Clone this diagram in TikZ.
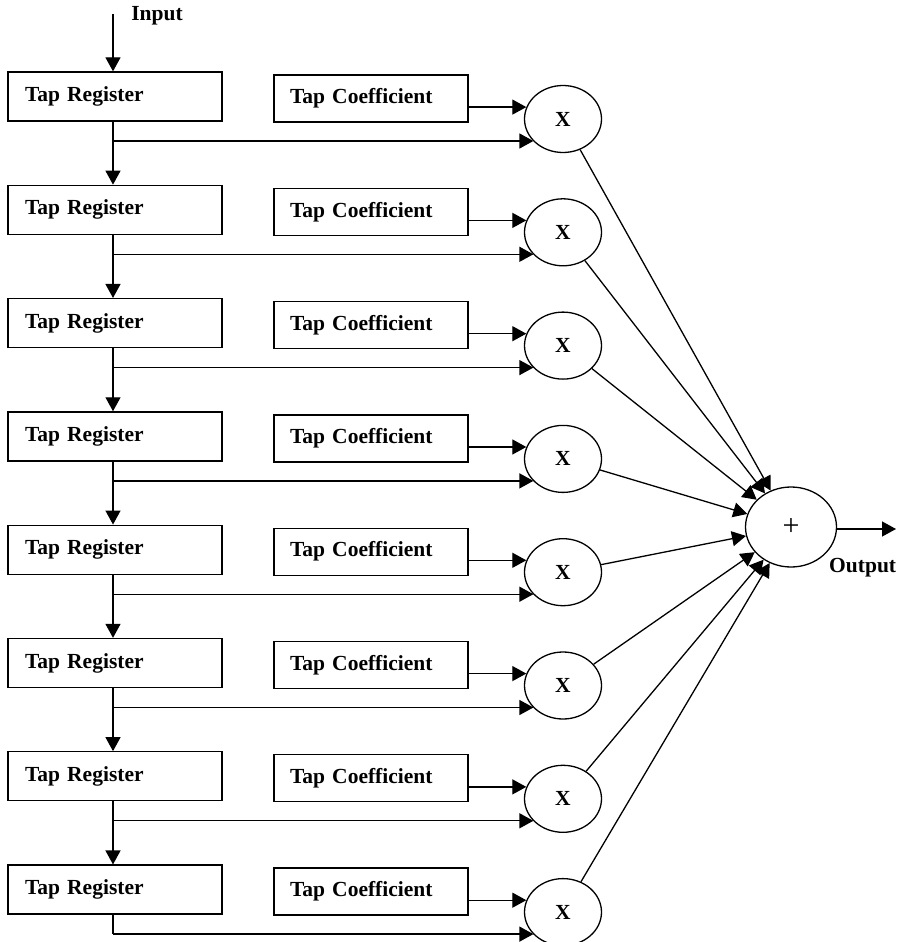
\documentclass[tikz,border=0pt]{standalone}
\usepackage{fontspec}
\setmainfont{Liberation Serif}
\usetikzlibrary{shapes.geometric,arrows.meta}
\tikzset{
  lbl/.style={font=\bfseries\fontsize{21.5}{24}\selectfont},
  regbox/.style={lbl, draw, line width=1.3pt, minimum height=49pt, text width=180pt, inner xsep=17pt, align=left},
  coefbox/.style={lbl, draw, line width=1.3pt, minimum height=47pt, text width=162pt, inner xsep=16pt, align=left},
  mult/.style={lbl, draw, ellipse, line width=1.3pt, minimum width=77pt, minimum height=67pt, inner sep=0pt},
  flow/.style={line width=1.3pt, -{Triangle[length=14pt,width=15pt]}},
}
\begin{document}
\begin{tikzpicture}[x=1pt, y=-1pt]
    \useasboundingbox (0,0) rectangle (897,942);

    % Input
    \node[lbl] (in) at (157,16) {Input};
    \coordinate (src) at (113,14);

    % Rows: register, coefficient, multiplier
    \foreach \k in {1,...,8} {
        \pgfmathsetmacro\dy{113.3*(\k-1)}
        \node[regbox] (r\k) at (115,96.5+\dy) {Tap Register};
        \node[coefbox] (c\k) at (371,98.5+\dy) {Tap Coefficient};
        \node[mult] (m\k) at (563,119+\dy) {X};
        \coordinate (b\k) at (113,141+\dy);
    }

    % Adder
    \node[draw, ellipse, line width=1.3pt, minimum width=91pt, minimum height=80pt, font=\fontsize{30}{32}\selectfont] (add) at (791,527) {+};
    \coordinate (out) at (896,529);
    \node[lbl, anchor=west, inner sep=0pt] (outlbl) at (829,568) {Output};

    \draw[flow] (src) -- (r1.north -| src);

    % Connectors per row
    \foreach \k in {1,...,8} {
        \draw[flow] (b\k) -- (b\k -| m\k.217);
        \draw[flow] (m\k.162 -| c\k.east) -- (m\k.162);
        \draw[flow] (m\k) -- (add);
    }
    \foreach \k in {1,...,7} {
        \pgfmathtruncatemacro\nxt{\k+1}
        \draw[flow] (r\k.south -| b\k) -- (r\nxt.north -| b\k);
    }
    \draw[line width=1.3pt] (r8.south -| b8) -- (b8);

    % Output
    \draw[flow] (add.east |- out) -- (out);
\end{tikzpicture}
\end{document}
